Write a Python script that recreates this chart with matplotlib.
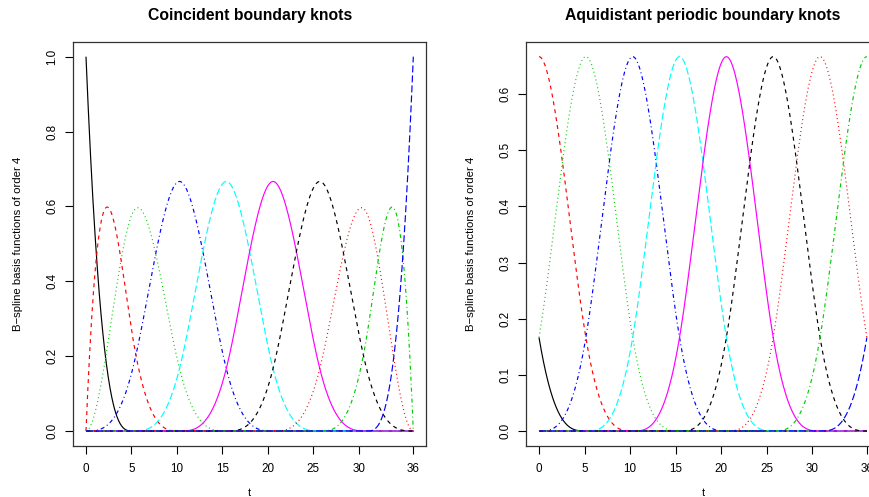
import numpy as np
import matplotlib
matplotlib.use("Agg")
import matplotlib.pyplot as plt

# ---- data: knot sequences (interior spacing 36/7) ----
t_min, t_max = 0.0, 36.0
h = 36.0 / 7.0
interior_knots = [h, 2 * h, 3 * h, 4 * h, 5 * h, 6 * h]
coincident_knots = [0.0] * 4 + interior_knots + [36.0] * 4
periodic_knots = [k * h for k in range(-3, 11)]
order = 4
x_ticks = [0, 5, 10, 15, 20, 25, 30, 36]
left_yticks = [0.0, 0.2, 0.4, 0.6, 0.8, 1.0]
right_yticks = [0.0, 0.1, 0.2, 0.3, 0.4, 0.5, 0.6]
titles = ["Coincident boundary knots", "Aquidistant periodic boundary knots"]
ylabel = "B\u2212spline basis functions of order 4"
xlabel = "t"

# R matplot default colours / line types
colors = ["#000000", "#FF0000", "#00CD00", "#0000FF", "#00FFFF", "#FF00FF"]


def bspline_basis(knots, k, x):
    knots = np.asarray(knots, float)
    n = len(knots) - 1
    B = np.zeros((len(x), n))
    last = max(i for i in range(n) if knots[i] < knots[i + 1])
    for i in range(n):
        if knots[i] < knots[i + 1]:
            if i == last:
                B[:, i] = (x >= knots[i]) & (x <= knots[i + 1])
            else:
                B[:, i] = (x >= knots[i]) & (x < knots[i + 1])
    for d in range(1, k):
        Bn = np.zeros((len(x), n - d))
        for i in range(n - d):
            den1 = knots[i + d] - knots[i]
            den2 = knots[i + d + 1] - knots[i + 1]
            term = np.zeros(len(x))
            if den1 > 0:
                term += (x - knots[i]) / den1 * B[:, i]
            if den2 > 0:
                term += (knots[i + d + 1] - x) / den2 * B[:, i + 1]
            Bn[:, i] = term
        B = Bn
    return B


tt = np.linspace(t_min, t_max, 721)
B_left = bspline_basis(coincident_knots, order, tt)
B_right = bspline_basis(periodic_knots, order, tt)

plt.rcParams['font.family'] = ['Liberation Sans', 'DejaVu Sans']
plt.rcParams['lines.scale_dashes'] = False

W, H = 870, 497
fig = plt.figure(figsize=(W / 100, H / 100), dpi=100)

px = 1 / 1.389  # one pixel in points
dash_styles = [
    (0, ()),                                          # solid
    (0, (4 * px, 4 * px)),                            # dashed
    (0, (1 * px, 3 * px)),                            # dotted
    (0, (1 * px, 3 * px, 4 * px, 3 * px)),            # dotdash
    (0, (7 * px, 3 * px)),                            # longdash
]


def axes_rect(x0, x1, y0, y1):
    return [x0 / W, 1 - y1 / H, (x1 - x0) / W, (y1 - y0) / H]


ax1 = fig.add_axes(axes_rect(72.9, 426.4, 41.7, 446.0))
ax2 = fig.add_axes(axes_rect(525.9, 880.0, 41.7, 446.0))

for ax, B, yt, ymax, title, lab_x in [(ax1, B_left, left_yticks, 1.0, titles[0], -0.14),
                                      (ax2, B_right, right_yticks, 2.0 / 3.0, titles[1], -0.142)]:
    for j in range(B.shape[1]):
        ax.plot(tt, B[:, j], color=colors[j % 6], linestyle=dash_styles[j % 5],
                linewidth=0.85)
    ax.set_xlim(t_min - 0.04 * (t_max - t_min), t_max + 0.04 * (t_max - t_min))
    ax.set_ylim(-0.04 * ymax, ymax * 1.04)
    ax.set_xticks(x_ticks)
    ax.set_xticklabels([str(v) for v in x_ticks])
    ax.set_yticks(yt)
    ax.set_yticklabels([f"{v:.1f}" for v in yt], rotation=90, va='center')
    ax.tick_params(direction='out', length=5.5, width=0.8, labelsize=8.4,
                   pad=6.5, colors='black')
    ax.tick_params(axis='y', pad=5)
    for s in ax.spines.values():
        s.set_linewidth(0.9)
        s.set_color('#333333')
    ax.set_ylabel(ylabel, fontsize=8.2)
    ax.yaxis.set_label_coords(lab_x, 0.5)
    pos = ax.get_position()
    cx = (pos.x0 + pos.x1) / 2
    fig.text(cx, 1 - 20 / H, title, ha='center', va='baseline',
             fontsize=11.3, fontweight='bold')
    fig.text(cx, 1 - 493 / H, xlabel, ha='center', va='center', fontsize=7.8)

fig.savefig("out.png", dpi=100)
